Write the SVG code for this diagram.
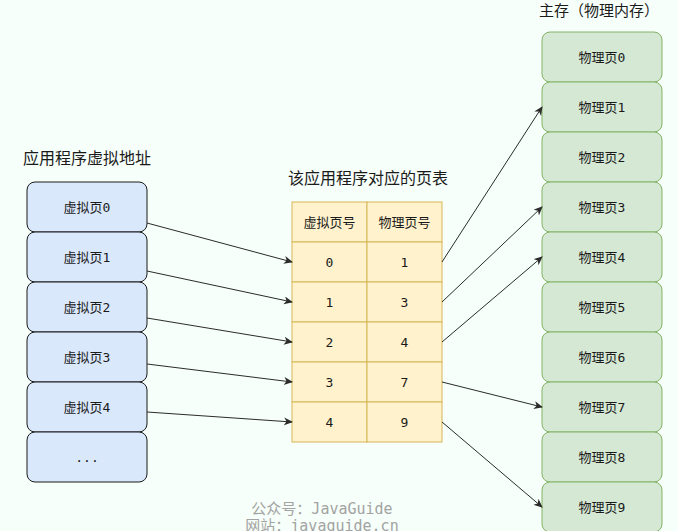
<svg xmlns="http://www.w3.org/2000/svg" width="678" height="531" viewBox="0 0 678 531">
  <style>
    text { font-family: "DejaVu Sans Mono", "Noto Sans CJK SC", monospace; fill: #1a1a1a; text-anchor: middle; dominant-baseline: central; }
    .title { font-family: "Noto Sans CJK SC", sans-serif; font-size: 16px; text-anchor: start; }
    .lbl { font-size: 13px; }
    .vpage rect { fill: #dae8fc; stroke: #1a1a1a; stroke-width: 1; }
    .ppage rect { fill: #d5e8d4; stroke: #82b366; stroke-width: 1; }
    .cell { fill: #fff2cc; stroke: #d6b656; stroke-width: 1; }
    .edge { fill: none; stroke: #2b2b2b; stroke-width: 1; marker-end: url(#arrow); }
    .wm { font-size: 15px; fill: #a3a3a3; }
  </style>
  <defs>
    <marker id="arrow" markerWidth="10" markerHeight="10" refX="8" refY="4" orient="auto" markerUnits="userSpaceOnUse">
      <path d="M0,0 L9,4 L0,8 L2.5,4 Z" fill="#2b2b2b"/>
    </marker>
  </defs>

  <rect x="0" y="0" width="678" height="531" fill="#f6fff9"/>

  <!-- titles -->
  <text class="title" x="23" y="157">应用程序虚拟地址</text>
  <text class="title" x="288" y="177">该应用程序对应的页表</text>
  <text class="title" x="539" y="9" style="font-size:15px">主存（物理内存）</text>

  <!-- virtual pages -->
  <g id="vpage0" class="vpage"><rect x="27" y="182" width="120" height="50" rx="8"/><text class="lbl" x="87" y="207">虚拟页0</text></g>
  <g id="vpage1" class="vpage"><rect x="27" y="232" width="120" height="50" rx="8"/><text class="lbl" x="87" y="257">虚拟页1</text></g>
  <g id="vpage2" class="vpage"><rect x="27" y="282" width="120" height="50" rx="8"/><text class="lbl" x="87" y="307">虚拟页2</text></g>
  <g id="vpage3" class="vpage"><rect x="27" y="332" width="120" height="50" rx="8"/><text class="lbl" x="87" y="357">虚拟页3</text></g>
  <g id="vpage4" class="vpage"><rect x="27" y="382" width="120" height="50" rx="8"/><text class="lbl" x="87" y="407">虚拟页4</text></g>
  <g id="vpage-more" class="vpage"><rect x="27" y="432" width="120" height="50" rx="8"/><text class="lbl" x="87" y="457">...</text></g>

  <!-- page table -->
  <g id="page-table">
    <rect class="cell" x="292" y="202" width="75" height="40"/><rect class="cell" x="367" y="202" width="75" height="40"/>
    <rect class="cell" x="292" y="242" width="75" height="40"/><rect class="cell" x="367" y="242" width="75" height="40"/>
    <rect class="cell" x="292" y="282" width="75" height="40"/><rect class="cell" x="367" y="282" width="75" height="40"/>
    <rect class="cell" x="292" y="322" width="75" height="40"/><rect class="cell" x="367" y="322" width="75" height="40"/>
    <rect class="cell" x="292" y="362" width="75" height="40"/><rect class="cell" x="367" y="362" width="75" height="40"/>
    <rect class="cell" x="292" y="402" width="75" height="40"/><rect class="cell" x="367" y="402" width="75" height="40"/>
    <text class="lbl" x="329.5" y="222">虚拟页号</text><text class="lbl" x="404.5" y="222">物理页号</text>
    <text class="lbl" x="329.5" y="262">0</text><text class="lbl" x="404.5" y="262">1</text>
    <text class="lbl" x="329.5" y="302">1</text><text class="lbl" x="404.5" y="302">3</text>
    <text class="lbl" x="329.5" y="342">2</text><text class="lbl" x="404.5" y="342">4</text>
    <text class="lbl" x="329.5" y="382">3</text><text class="lbl" x="404.5" y="382">7</text>
    <text class="lbl" x="329.5" y="422">4</text><text class="lbl" x="404.5" y="422">9</text>
  </g>

  <!-- physical pages -->
  <g id="ppage0" class="ppage"><rect x="542" y="32" width="120" height="50" rx="8"/><text class="lbl" x="602" y="57">物理页0</text></g>
  <g id="ppage1" class="ppage"><rect x="542" y="82" width="120" height="50" rx="8"/><text class="lbl" x="602" y="107">物理页1</text></g>
  <g id="ppage2" class="ppage"><rect x="542" y="132" width="120" height="50" rx="8"/><text class="lbl" x="602" y="157">物理页2</text></g>
  <g id="ppage3" class="ppage"><rect x="542" y="182" width="120" height="50" rx="8"/><text class="lbl" x="602" y="207">物理页3</text></g>
  <g id="ppage4" class="ppage"><rect x="542" y="232" width="120" height="50" rx="8"/><text class="lbl" x="602" y="257">物理页4</text></g>
  <g id="ppage5" class="ppage"><rect x="542" y="282" width="120" height="50" rx="8"/><text class="lbl" x="602" y="307">物理页5</text></g>
  <g id="ppage6" class="ppage"><rect x="542" y="332" width="120" height="50" rx="8"/><text class="lbl" x="602" y="357">物理页6</text></g>
  <g id="ppage7" class="ppage"><rect x="542" y="382" width="120" height="50" rx="8"/><text class="lbl" x="602" y="407">物理页7</text></g>
  <g id="ppage8" class="ppage"><rect x="542" y="432" width="120" height="50" rx="8"/><text class="lbl" x="602" y="457">物理页8</text></g>
  <g id="ppage9" class="ppage"><rect x="542" y="482" width="120" height="50" rx="8"/><text class="lbl" x="602" y="507">物理页9</text></g>

  <!-- connectors -->
  <g id="connectors">
    <line class="edge" x1="147" y1="223" x2="292" y2="262"/>
    <line class="edge" x1="147" y1="271" x2="292" y2="302"/>
    <line class="edge" x1="147" y1="318" x2="292" y2="342"/>
    <line class="edge" x1="147" y1="364" x2="292" y2="382"/>
    <line class="edge" x1="147" y1="412" x2="292" y2="422"/>
    <line class="edge" x1="442" y1="262" x2="542" y2="107"/>
    <line class="edge" x1="442" y1="302" x2="542" y2="207"/>
    <line class="edge" x1="442" y1="342" x2="542" y2="257"/>
    <line class="edge" x1="442" y1="382" x2="542" y2="407"/>
    <line class="edge" x1="442" y1="422" x2="542" y2="507"/>
  </g>

  <!-- watermark -->
  <text class="wm" x="322" y="509">公众号：JavaGuide</text>
  <text class="wm" x="322" y="526">网站：javaguide.cn</text>
</svg>
